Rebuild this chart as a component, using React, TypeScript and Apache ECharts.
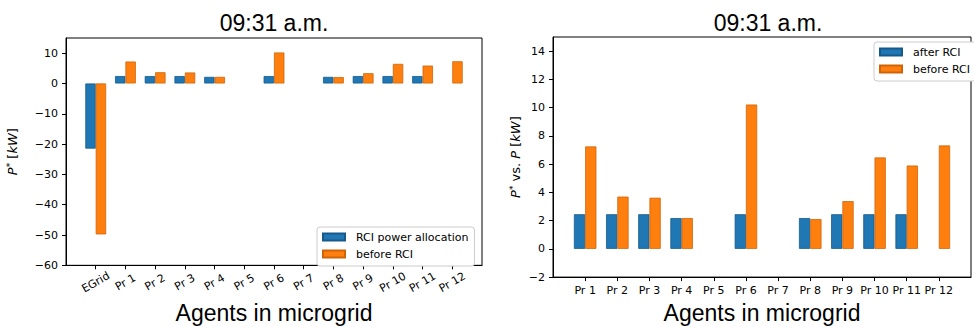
import React, { useEffect, useRef } from "react";
import * as echarts from "echarts";

// ---- data ----
const prosumers = ["Pr 1", "Pr 2", "Pr 3", "Pr 4", "Pr 5", "Pr 6", "Pr 7", "Pr 8", "Pr 9", "Pr 10", "Pr 11", "Pr 12"];
const gridName = "EGrid";
const egridAllocation = -21.5;
const egridBefore = -49.8;
const afterRCI = [2.45, 2.45, 2.45, 2.18, null, 2.45, null, 2.18, 2.45, 2.45, 2.45, null];
const beforeRCI = [7.25, 3.7, 3.62, 2.18, null, 10.22, null, 2.11, 3.38, 6.47, 5.9, 7.32];
const leftYTicks = [-60, -50, -40, -30, -20, -10, 0, 10];
const rightYTicks = [-2, 0, 2, 4, 6, 8, 10, 12, 14];
const titleText = "09:31 a.m.";
const xAxisTitle = "Agents in microgrid";

const BLUE = "#1f77b4";
const ORANGE = "#ff7f0e";
const TICK_FONT = "DejaVu Sans";
const BIG_FONT = "Liberation Sans";

const leftCats = ["", gridName, ...prosumers, ""];
const rightCats = ["", ...prosumers, ""];
const leftAlloc = [null, egridAllocation, ...afterRCI, null];
const leftBefore = [null, egridBefore, ...beforeRCI, null];
const rightAfter = [null, ...afterRCI, null];
const rightBefore = [null, ...beforeRCI, null];

const minus = (v: number) => String(v).replace("-", "\u2212");

const richName = {
  i: { fontStyle: "italic", fontSize: 13, fontFamily: TICK_FONT, color: "#000" },
  n: { fontSize: 13, fontFamily: TICK_FONT, color: "#000" },
  s: { fontSize: 9, fontFamily: TICK_FONT, color: "#000", verticalAlign: "top", padding: [0, 0, 6, 0] },
};

function catAxis(gridIndex: number, cats: string[], rotated: boolean, nameGap: number) {
  return {
    type: "category",
    gridIndex,
    data: cats,
    boundaryGap: false,
    axisLine: { show: true, onZero: false, lineStyle: { color: "#000", width: 1 } },
    axisTick: {
      show: true,
      length: 4,
      interval: (index: number) => index > 0 && index < cats.length - 1,
      lineStyle: { color: "#000", width: 1 },
    },
    axisLabel: rotated
      ? {
          interval: 0,
          rotate: 30,
          fontSize: 11,
          fontFamily: TICK_FONT,
          color: "#000",
          align: "center",
          verticalAlign: "middle",
          margin: 17,
        }
      : { interval: 0, fontSize: 11, fontFamily: TICK_FONT, color: "#000", margin: 8 },
    splitLine: { show: false },
    name: xAxisTitle,
    nameLocation: "middle",
    nameGap,
    nameTextStyle: { fontSize: 23, fontFamily: BIG_FONT, color: "#000" },
  };
}

function valAxis(gridIndex: number, min: number, max: number, ticks: number[], name: string, nameGap: number) {
  return {
    type: "value",
    gridIndex,
    min,
    max,
    axisLine: { show: true, onZero: false, lineStyle: { color: "#000", width: 1 } },
    axisTick: { show: true, length: 4, customValues: ticks, lineStyle: { color: "#000", width: 1 } },
    axisLabel: {
      customValues: ticks,
      formatter: (v: number) => minus(v),
      fontSize: 11,
      fontFamily: TICK_FONT,
      color: "#000",
      margin: 8,
    },
    splitLine: { show: false },
    name,
    nameLocation: "middle",
    nameRotate: 90,
    nameGap,
    nameTextStyle: { rich: richName, fontSize: 13, fontFamily: TICK_FONT, color: "#000" },
  };
}

function barSeries(name: string, data: (number | null)[], axisIndex: number, color: string, border: string) {
  return {
    type: "bar",
    name,
    xAxisIndex: axisIndex,
    yAxisIndex: axisIndex,
    data,
    barWidth: "35%",
    barGap: "0%",
    itemStyle: { color, borderColor: border, borderWidth: 0.8 },
  };
}

const legendBase = {
  orient: "vertical",
  icon: "rect",
  itemWidth: 22,
  itemHeight: 7,
  itemGap: 5,
  selectedMode: false,
  backgroundColor: "#fff",
  borderColor: "#cccccc",
  borderWidth: 1,
  borderRadius: 3,
  padding: [4, 6, 6, 5],
  textStyle: { fontSize: 11, fontFamily: TICK_FONT, color: "#000", lineHeight: 12, padding: [0, 0, 0, 6] },
};

export default function App() {
  const ref = useRef<HTMLDivElement>(null);
  useEffect(() => {
    if (!ref.current) return;
    const chart = echarts.init(ref.current, undefined, { renderer: "svg" });
    chart.setOption({
      animation: false,
      backgroundColor: "#fff",
      grid: [
        { left: 66, top: 38, width: 416, height: 234, show: true, borderColor: "#000", borderWidth: 1, backgroundColor: "transparent" },
        { left: 553, top: 37, width: 433, height: 250, show: true, borderColor: "#000", borderWidth: 1, backgroundColor: "transparent" },
      ],
      xAxis: [catAxis(0, leftCats, true, 33), catAxis(1, rightCats, false, 18)],
      yAxis: [
        valAxis(0, -60, 15, leftYTicks, "{i|P}{s|*}{n| [}{i|kW}{n|]}", 46),
        valAxis(1, -2, 15, rightYTicks, "{i|P}{s|*}{n| vs. }{i|P}{n| [}{i|kW}{n|]}", 30),
      ],
      legend: [
        { ...legendBase, data: ["RCI power allocation", "before RCI"], left: 317, top: 227 },
        { ...legendBase, data: ["after RCI", "before RCI"], left: 874, top: 42 },
      ],
      graphic: [
        {
          type: "text",
          x: 274,
          y: 23,
          style: { text: titleText, fontSize: 23, fontFamily: BIG_FONT, fill: "#000", align: "center", verticalAlign: "middle" },
        },
        {
          type: "text",
          x: 768,
          y: 23,
          style: { text: titleText, fontSize: 23, fontFamily: BIG_FONT, fill: "#000", align: "center", verticalAlign: "middle" },
        },
      ],
      series: [
        barSeries("RCI power allocation", leftAlloc, 0, BLUE, "#175a8a"),
        barSeries("before RCI", leftBefore, 0, ORANGE, "#cf6407"),
        barSeries("after RCI", rightAfter, 1, BLUE, "#175a8a"),
        barSeries("before RCI", rightBefore, 1, ORANGE, "#cf6407"),
      ],
    });
    return () => chart.dispose();
  }, []);
  return (
    <div
      ref={ref}
      style={{ position: "fixed", left: 0, top: 0, width: 974, height: 329, background: "#fff" }}
    />
  );
}
